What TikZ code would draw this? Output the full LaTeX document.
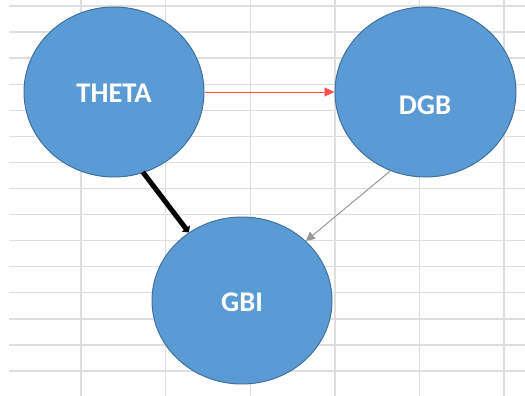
\documentclass[tikz,border=0pt]{standalone}
\usepackage{fontspec}
\setmainfont{Carlito}
\usetikzlibrary{shapes.geometric,arrows.meta}
\definecolor{gridc}{HTML}{DEDEDE}
\definecolor{fillc}{HTML}{5B9BD5}
\definecolor{edgec}{HTML}{41719C}
\definecolor{redc}{HTML}{FF5050}
\definecolor{grayc}{HTML}{999999}
\tikzset{
  bubble/.style={ellipse, draw=edgec, line width=1pt, fill=fillc, inner sep=0pt},
  lbl/.style={text=white, font=\fontsize{28.5}{32}\selectfont\bfseries, inner sep=0pt},
  gridline/.style={draw=gridc, line width=1.4pt},
}
\begin{document}
\begin{tikzpicture}[x=1pt,y=-1pt]
\useasboundingbox (0,0) rectangle (525,396);
\fill[white] (0,0) rectangle (525,396);
% grid
\foreach \k in {0,...,14} {
  \draw[gridline] (9,{6+26.07*\k}) -- (525,{6+26.07*\k});
}
\foreach \k in {0,...,5} {
  \draw[gridline] ({81+84.6*\k},0) -- ({81+84.6*\k},396);
}
% nodes
\node[bubble, minimum width=180pt, minimum height=170pt] (theta) at (114,92) {};
\node[bubble, minimum width=181pt, minimum height=170pt] (dgb) at (425.5,92) {};
\node[bubble, minimum width=180pt, minimum height=167pt] (gbi) at (242,300.5) {};
\node[lbl] (thetat) at (114,93) {THETA};
\node[lbl] (dgbt) at (425,105) {DGB};
\node[lbl] (gbit) at (242,302) {GBI};
% connectors
\draw[redc, line width=0.9pt, -{Triangle[length=10pt,width=9pt]}] (theta.east) -- (dgb.west);
\draw[black, line width=5pt, -{Triangle[length=5pt,width=10pt]}, shorten <=-1pt] (theta.-70) -- (gbi.128);
\draw[grayc, line width=1pt, -{Triangle[length=9pt,width=9pt]}] (dgb.-114) -- (gbi.43);
\end{tikzpicture}
\end{document}
